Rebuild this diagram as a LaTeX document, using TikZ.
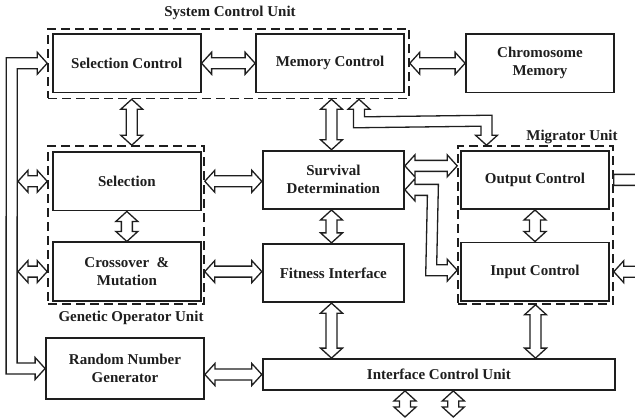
\documentclass[tikz,border=0pt]{standalone}
\usepackage{fontspec}
\setmainfont{Liberation Serif}
\usetikzlibrary{calc}
\definecolor{ink}{RGB}{30,30,30}

% hollow wide arrow with a head at both ends
\newcommand\twoheads[2]{%
  \path (#1) coordinate (ta) (#2) coordinate (tb)
        ($(ta)!10pt!(tb)$) coordinate (tam)
        ($(tb)!10pt!(ta)$) coordinate (tbm);
  \draw[hollow] (ta) -- ($(tam)!11pt!90:(tb)$) -- ($(tam)!5.5pt!90:(tb)$)
     -- ($(tbm)!5.5pt!-90:(ta)$) -- ($(tbm)!11pt!-90:(ta)$) -- (tb)
     -- ($(tbm)!11pt!90:(ta)$) -- ($(tbm)!5.5pt!90:(ta)$)
     -- ($(tam)!5.5pt!-90:(tb)$) -- ($(tam)!11pt!-90:(tb)$) -- cycle;}
% hollow wide arrow with a head at its second end only
\newcommand\onehead[2]{%
  \path (#1) coordinate (ta) (#2) coordinate (tb)
        ($(tb)!10pt!(ta)$) coordinate (tbm);
  \draw[hollow] ($(ta)!5.5pt!90:(tb)$) -- ($(tbm)!5.5pt!-90:(ta)$)
     -- ($(tbm)!11pt!-90:(ta)$) -- (tb) -- ($(tbm)!11pt!90:(ta)$)
     -- ($(tbm)!5.5pt!90:(ta)$) -- ($(ta)!5.5pt!-90:(tb)$) -- cycle;}

\begin{document}
\begin{tikzpicture}[x=1pt,y=-1pt,
  unit/.style={draw=ink, line width=1.8pt, minimum width=148pt, minimum height=58.5pt,
    inner sep=2pt, align=center, font=\fontsize{15}{18}\selectfont\bfseries, text=ink},
  groupbox/.style={draw=ink, line width=1.6pt, dash pattern=on 9pt off 5pt, inner sep=0pt},
  grouplabel/.style={font=\fontsize{15}{18}\selectfont\bfseries, text=ink},
  hollow/.style={draw=ink, line width=1.3pt, fill=white, line join=miter}]
\useasboundingbox (0,0) rectangle (635,420);
\clip (0,0) rectangle (635,420);
\fill[white] (0,0) rectangle (635,420);

% unit groups
\node[groupbox, minimum width=361pt, minimum height=69.5pt] (sysunit) at (228.5,63.75) {};
\node[groupbox, minimum width=156pt, minimum height=158pt] (genunit) at (126,225) {};
\node[groupbox, minimum width=155pt, minimum height=158pt] (migunit) at (535.5,225) {};
\node[grouplabel] (syslabel) at (230,13) {System Control Unit};
\node[grouplabel] (genlabel) at (131,318) {Genetic Operator Unit};
\node[grouplabel] (miglabel) at (572,137) {Migrator Unit};

% blocks
\node[unit] (selctl) at (126.7,63.25) {Selection Control};
\node[unit] (memctl) at (330,63.25) {Memory Control};
\node[unit] (chrom) at (540,63.25) {Chromosome\\Memory};
\node[unit] (selection) at (126.85,181.3) {Selection};
\node[unit] (crossover) at (126.85,271.6) {Crossover \ \&\\Mutation};
\node[unit, minimum width=158pt, minimum height=61pt] (rng) at (125,368.5) {Random Number\\Generator};
\node[unit, minimum width=141.3pt] (survival) at (333.35,179.85) {Survival\\Determination};
\node[unit, minimum width=141.3pt] (fitness) at (333.35,273) {Fitness Interface};
\node[unit] (output) at (535,179.85) {Output Control};
\node[unit] (input) at (535,271.7) {Input Control};
\node[unit, minimum width=352.3pt, minimum height=31pt] (icu) at (438.85,374.5) {Interface Control Unit};

% helper coordinates
\coordinate (c1) at ($(selctl.south)+(5,0)$);
\coordinate (c2) at ($(memctl.south)+(1.5,0)$);
\coordinate (so) at ($(survival.east)+(0,-14)$);
\coordinate (busin) at (18,0);
\coordinate (o1) at (405,417);
\coordinate (o2) at (453.3,417);
\coordinate (edge) at (665,0);

% straight connectors
\twoheads{selctl.east}{memctl.west}
\twoheads{sysunit.east |- chrom.west}{chrom.west}
\twoheads{sysunit.south -| c1}{genunit.north -| c1}
\twoheads{sysunit.south -| c2}{survival.north -| c2}
\twoheads{genunit.east |- selection.east}{survival.west |- selection.east}
\twoheads{genunit.east |- crossover.east}{fitness.west |- crossover.east}
\twoheads{selection.south}{crossover.north}
\twoheads{rng.east |- icu.west}{icu.west}
\twoheads{survival.south -| c2}{fitness.north -| c2}
\twoheads{fitness.south -| c2}{icu.north -| c2}
\twoheads{so}{so -| migunit.west}
\twoheads{output.south}{input.north}
\twoheads{migunit.south}{icu.north -| migunit.south}
\twoheads{busin |- selection.west}{genunit.west |- selection.west}
\twoheads{busin |- crossover.west}{genunit.west |- crossover.west}
\twoheads{icu.south -| o1}{o1}
\twoheads{icu.south -| o2}{o2}
\onehead{migunit.east |- output.east}{edge |- output.east}
\onehead{edge |- input.east}{migunit.east |- input.east}

% memory control to migrator unit
\coordinate (m1) at ($(sysunit.south -| memctl.south)+(29,0)$);
\coordinate (m4) at ($(migunit.north)+(-49,0)$);
\draw[hollow] (m1) -- ($(m1)+(11,10)$) -- ($(m1)+(5.5,10)$) -- ($(m1)+(5.5,17.5)$)
  -- ($(m4)+(5.5,-30)$) -- ($(m4)+(5.5,-10)$) -- ($(m4)+(11,-10)$) -- (m4)
  -- ($(m4)+(-11,-10)$) -- ($(m4)+(-5.5,-10)$) -- ($(m4)+(-5.5,-19)$)
  -- ($(m1)+(-5.5,28.5)$) -- ($(m1)+(-5.5,10)$) -- ($(m1)+(-11,10)$) -- cycle;

% survival determination to input control
\coordinate (s1) at ($(survival.east)+(0,10)$);
\coordinate (s4) at ($(migunit.west |- input.west)+(0,-1.5)$);
\draw[hollow] (s1) -- ($(s1)+(10,-11)$) -- ($(s1)+(10,-5.5)$) -- ($(s1)+(33.5,-5.5)$)
  -- ($(s4)+(-20.5,-5.5)$) -- ($(s4)+(-10,-5.5)$) -- ($(s4)+(-10,-11)$) -- (s4)
  -- ($(s4)+(-10,11)$) -- ($(s4)+(-10,5.5)$) -- ($(s4)+(-31.5,5.5)$)
  -- ($(s1)+(22.5,5.5)$) -- ($(s1)+(10,5.5)$) -- ($(s1)+(10,11)$) -- cycle;

% left bus from random number generator to selection control
\coordinate (b1) at (sysunit.west |- selctl.west);
\coordinate (b4) at (rng.west);
\draw[hollow] (b1) -- ($(b1)+(-10,11)$) -- ($(b1)+(-10,5.5)$) -- ($(b1)+(-30,5.5)$)
  -- ($(b4)+(-28,-5.5)$) -- ($(b4)+(-10,-5.5)$) -- ($(b4)+(-10,-11)$) -- (b4)
  -- ($(b4)+(-10,11)$) -- ($(b4)+(-10,5.5)$) -- ($(b4)+(-39,5.5)$)
  -- ($(b1)+(-41,-5.5)$) -- ($(b1)+(-10,-5.5)$) -- ($(b1)+(-10,-11)$) -- cycle;
\end{tikzpicture}
\end{document}
